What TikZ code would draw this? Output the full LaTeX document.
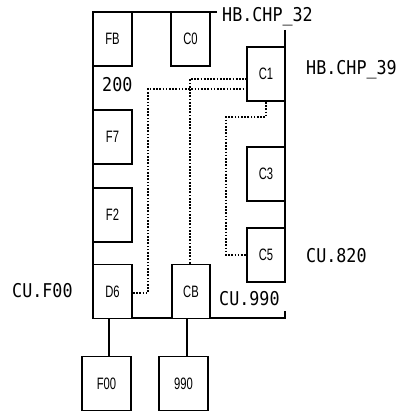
\documentclass[tikz,border=0pt]{standalone}
\usepackage{fontspec}
\newfontfamily\labfont[FakeStretch=0.88]{DejaVu Sans Mono}
\newfontfamily\boxfont[FakeStretch=0.68]{Liberation Sans}
\begin{document}
\begin{tikzpicture}[x=1pt,y=-1pt,
  unit/.style={draw,line width=1.9pt,minimum width=39pt,minimum height=54pt,inner sep=0pt,
     font=\boxfont\fontsize{16.5}{18}\selectfont},
  wide/.style={unit,minimum width=49pt},
  lab/.style={anchor=base west,inner sep=0pt,font=\labfont\fontsize{19}{21}\selectfont},
  frame/.style={line width=1.9pt},
  dots/.style={line width=1.9pt,dash pattern=on 1.7pt off 1.5pt}]
\useasboundingbox (0,0) rectangle (403,411);
% frame
\coordinate (tl) at (93,12);
\coordinate (tr) at (217,12);
\coordinate (bl) at (93,318);
\coordinate (br) at (285,318);
\coordinate (rt) at (285,30);
\coordinate (rg1) at (285,283);
\coordinate (rg2) at (285,311);
\draw[frame] (tr) -- (tl) -- (bl) -- (br) -- (rg2);
\draw[frame] (rt) -- (rg1);
% boxes
\node[unit,fill=white] (FB) at (112.5,39) {FB};
\node[unit,fill=white] (C0) at (190.5,39) {C0};
\node[unit,fill=white,minimum width=38pt] (C1) at (266,74) {C1};
\node[unit,fill=white] (F7) at (112.5,137) {F7};
\node[unit,fill=white] (F2) at (112.5,215) {F2};
\node[unit,fill=white] (D6) at (112.5,291.5) {D6};
\node[unit,fill=white,minimum width=38pt] (CB) at (191,291.5) {CB};
\node[unit,fill=white,minimum width=38pt] (C3) at (266,174) {C3};
\node[unit,fill=white,minimum width=38pt] (C5) at (266,255) {C5};
\node[wide] (F00) at (106.5,383.5) {F00};
\node[wide] (N990) at (183.5,383.5) {990};
% solid connectors
\draw[frame] ([xshift=-3.5pt]D6.south) -- ([xshift=2.5pt]F00.north);
\draw[frame] ([xshift=-4pt]CB.south) -- ([xshift=3.5pt]N990.north);
% dotted connectors
\draw[dots] ([yshift=-1.5pt]D6.east) -| (148,89) -- (C1.west |- 0,89);
\draw[dots] ([xshift=-1pt]CB.north) |- (C1.west |- 0,79);
\draw[dots] (C1.south) |- (226,117) |- (C5.west);
% labels
\node[lab] (l32) at (222,22) {HB.CHP\_32};
\node[lab] (l39) at (306,75) {HB.CHP\_39};
\node[lab] (l820) at (306,262) {CU.820};
\node[lab] (lf00) at (12,297) {CU.F00};
\node[lab] (l990) at (219,305) {CU.990};
\node[lab] (l200) at (102,92) {200};
\end{tikzpicture}
\end{document}
